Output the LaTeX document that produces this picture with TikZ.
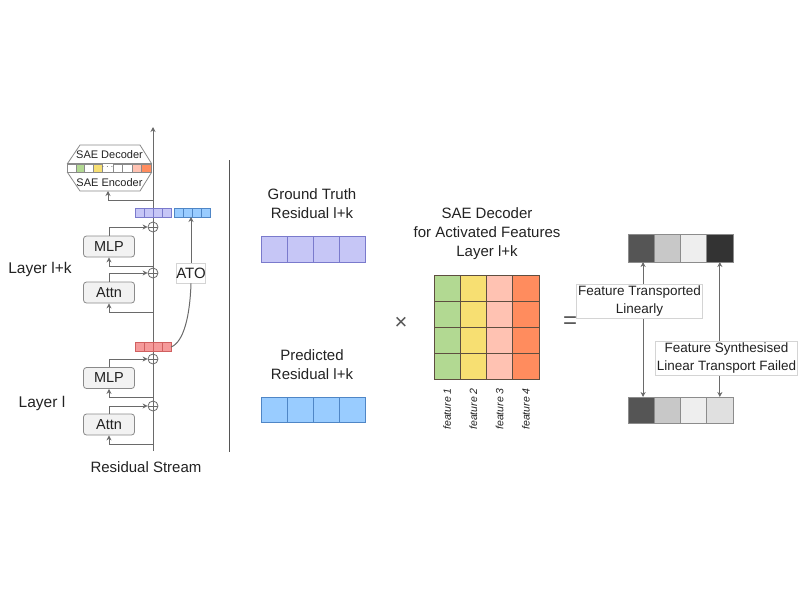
\documentclass[tikz,border=0pt]{standalone}
\usepackage{fontspec}
\setmainfont{Liberation Sans}
\usetikzlibrary{arrows.meta,calc}
\definecolor{lgray}{HTML}{6A6A6A}
\definecolor{bborder}{HTML}{8A8A8A}
\definecolor{bfill}{HTML}{F2F2F2}
\definecolor{purf}{HTML}{C6C6F6}
\definecolor{purd}{HTML}{7A7ACC}
\definecolor{bluf}{HTML}{99CCFF}
\definecolor{blud}{HTML}{4F86C6}
\definecolor{redf}{HTML}{F59A9A}
\definecolor{redd}{HTML}{D06060}
\definecolor{cgreen}{HTML}{B2D992}
\definecolor{cyellow}{HTML}{F7DF72}
\definecolor{cpink}{HTML}{FFC2B2}
\definecolor{corange}{HTML}{FF8C5E}
\definecolor{mborder}{HTML}{5E4E40}
\definecolor{g1}{HTML}{555555}
\definecolor{g2}{HTML}{C8C8C8}
\definecolor{g3}{HTML}{EEEEEE}
\definecolor{g4}{HTML}{333333}
\definecolor{g5}{HTML}{E0E0E0}
\definecolor{vborder}{HTML}{8C8C8C}
\definecolor{lblborder}{HTML}{D4D4D4}
\definecolor{txt}{HTML}{222222}
\begin{document}
\begin{tikzpicture}[x=1pt,y=-1pt,
  line/.style={draw=lgray,line width=1pt},
  arr/.style={line,-{Stealth[length=5pt,width=5pt]}},
  darr/.style={line,{Stealth[length=5pt,width=5pt]}-{Stealth[length=5pt,width=5pt]}},
  blockbox/.style={draw=bborder,fill=bfill,rounded corners=3pt,line width=0.8pt,
    minimum width=51pt,minimum height=21pt,inner sep=0pt,text=txt,
    font=\fontsize{14.5}{16}\selectfont},
  pluscirc/.style={circle,draw=lgray,fill=white,line width=0.8pt,minimum size=10pt,inner sep=0pt,
    path picture={\draw[lgray,line width=0.8pt]
      (path picture bounding box.north) -- (path picture bounding box.south)
      (path picture bounding box.west) -- (path picture bounding box.east);}},
  scell/.style={draw,minimum width=9pt,minimum height=9pt,inner sep=0pt,outer sep=0pt,line width=0.5pt},
  vcell/.style={draw,minimum width=26pt,minimum height=26pt,inner sep=0pt,outer sep=0pt,line width=0.9pt},
  lbl/.style={text=txt,align=center,font=\fontsize{15}{19}\selectfont},
  tagbox/.style={draw=lblborder,fill=white,line width=0.5pt,text=txt,align=center,inner sep=1.5pt,
    font=\fontsize{13.5}{18}\selectfont},
  feat/.style={rotate=90,anchor=east,text=txt,font=\fontsize{10.5}{11}\selectfont\itshape,inner sep=0pt}
]
\useasboundingbox (0,0) rectangle (800,600);

% ---------------- residual stream ----------------
\coordinate (sb) at (153,451);
\coordinate (sd1) at (153,314);
\coordinate (sd2) at (153,342);
\coordinate (st) at (153,127);
\draw[line] (sb) -- (sd1);
\draw[line,dash pattern=on 1.2pt off 2.6pt] (sd1) -- (sd2);
\draw[arr] (sd2) -- (st);

% taps on the stream
\coordinate (s1) at (153,444);
\coordinate (s2) at (153,397);
\coordinate (s3) at (153,312);
\coordinate (s4) at (153,266);
\coordinate (s5) at (153,200);

% blocks
\node[blockbox] (attnL) at (109,424.5) {Attn};
\node[blockbox] (mlpL)  at (109,378) {MLP};
\node[blockbox] (attnU) at (109,292.5) {Attn};
\node[blockbox] (mlpU)  at (109,246.5) {MLP};

\node[pluscirc] (p1) at (153,406) {};
\node[pluscirc] (p2) at (153,359) {};
\node[pluscirc] (p3) at (153,273) {};
\node[pluscirc] (p4) at (153,227) {};

\draw[arr] (s1) -| (attnL.south);
\draw[arr] (attnL.north) |- (p1.west);
\draw[arr] (s2) -| (mlpL.south);
\draw[arr] (mlpL.north) |- (p2.west);
\draw[arr] (s3) -| (attnU.south);
\draw[arr] (attnU.north) |- (p3.west);
\draw[arr] (s4) -| (mlpU.south);
\draw[arr] (mlpU.north) |- (p4.west);

% small vectors
\foreach \i in {0,...,3}{
  \node[scell,draw=redd,fill=redf] (r\i) at ({139.5+9*\i},347) {};
  \node[scell,draw=purd,fill=purf] (u\i) at ({139.5+9*\i},212.5) {};
  \node[scell,draw=blud,fill=bluf] (b\i) at ({178.5+9*\i},212.5) {};
}
\coordinate (redE) at (r3.east);

% ATO
\node[draw=lblborder,fill=white,line width=0.6pt,minimum width=28pt,minimum height=20pt,inner sep=0pt,
  text=txt,font=\fontsize{15}{16}\selectfont] (ato) at (191,273) {ATO};
\draw[line] (redE) .. controls (184,342) and (190,315) .. (ato.south);
\draw[arr] (ato.north) -- (ato.north |- b1.south);

% SAE block
\coordinate (decTL) at (80,145);
\coordinate (decTR) at (140,145);
\coordinate (decBR) at (151.5,163.5);
\coordinate (decBL) at (67.5,163.5);
\draw[draw=bborder,fill=white,line width=0.8pt] (decTL) -- (decTR) -- (decBR) -- (decBL) -- cycle;
\node[text=txt,font=\fontsize{11}{12}\selectfont,inner sep=0pt] (dec) at (109.5,154.5) {SAE Decoder};
\coordinate (encTL) at (67.5,172.5);
\coordinate (encTR) at (151.5,172.5);
\coordinate (encBR) at (140,191);
\coordinate (encBL) at (80,191);
\draw[draw=bborder,fill=white,line width=0.8pt] (encTL) -- (encTR) -- (encBR) -- (encBL) -- cycle;
\node[text=txt,font=\fontsize{11}{12}\selectfont,inner sep=0pt] (enc) at (109.5,182.5) {SAE Encoder};
\coordinate (encS) at (108,191);
\foreach \c [count=\i from 0] in {white,cgreen,white,cyellow}{
  \node[draw=bborder,fill=\c,minimum width=8.75pt,minimum height=8pt,inner sep=0pt,line width=0.5pt]
    (sl\i) at ({71.4+8.75*\i},168) {};
}
\node[text=lgray,font=\fontsize{10}{10}\selectfont,inner sep=0pt] (sdots) at (107.5,167) {$\cdots$};
\foreach \c [count=\i from 0] in {white,white,cpink,corange}{
  \node[draw=bborder,fill=\c,minimum width=9.5pt,minimum height=8pt,inner sep=0pt,line width=0.5pt]
    (sr\i) at ({117.75+9.5*\i},168) {};
}
\draw[arr] (s5) -| (encS);

% labels left
\node[lbl,font=\fontsize{15.5}{18}\selectfont] (lk) at (40,269) {Layer l+k};
\node[lbl,font=\fontsize{15.5}{18}\selectfont] (ll) at (42,403) {Layer l};
\node[lbl] (rs) at (146,467) {Residual Stream};

% separator
\coordinate (sepT) at (229,160);
\coordinate (sepB) at (229,452);
\draw[draw=g1,line width=1pt] (sepT) -- (sepB);

% ---------------- middle ----------------
\node[lbl] (gtl) at (312,204) {Ground Truth\\Residual l+k};
\node[lbl] (prl) at (312,364.5) {Predicted\\Residual l+k};
\foreach \i in {0,...,3}{
  \node[vcell,draw=purd,fill=purf] (gt\i) at ({274+26*\i},249) {};
  \node[vcell,draw=blud,fill=bluf,minimum height=25pt] (pr\i) at ({274+26*\i},409.5) {};
}
\node[text=g1,font=\fontsize{22}{22}\selectfont,inner sep=0pt] (times) at (401,323) {×};

\node[lbl] (mtl) at (487,234) {SAE Decoder\\for Activated Features\\Layer l+k};
\foreach \c [count=\j from 0] in {cgreen,cyellow,cpink,corange}{
  \foreach \i in {0,...,3}{
    \node[vcell,draw=mborder,fill=\c,minimum width=26.25pt] (m\j\i) at ({447.1+26.25*\j},{288+26*\i}) {};
  }
  \node[feat] (f\j) at ({447.1+26.25*\j},388) {feature \the\numexpr\j+1\relax};
}
\node[text=g1,font=\fontsize{24}{24}\selectfont,inner sep=0pt] (eq) at (570,323) {=};

% ---------------- right ----------------
\foreach \c [count=\i from 0] in {g1,g2,g3,g4}{
  \node[vcell,draw=vborder,fill=\c,minimum width=26.25pt,minimum height=28pt] (t\i) at ({641.1+26.25*\i},248) {};
}
\foreach \c [count=\i from 0] in {g1,g2,g3,g5}{
  \node[vcell,draw=vborder,fill=\c,minimum width=26.25pt] (o\i) at ({641.1+26.25*\i},410) {};
}
\draw[darr] ([xshift=2pt]t0.south) -- ([xshift=2pt]o0.north);
\draw[darr] (t3.south) -- (o3.north);
\node[tagbox,minimum width=125pt,minimum height=33pt] (tl1) at (639.5,301.5) {Feature Transported\\Linearly};
\node[tagbox,minimum width=141pt,minimum height=34pt] (tl2) at (726.5,358) {Feature Synthesised\\Linear Transport Failed};
\end{tikzpicture}
\end{document}
